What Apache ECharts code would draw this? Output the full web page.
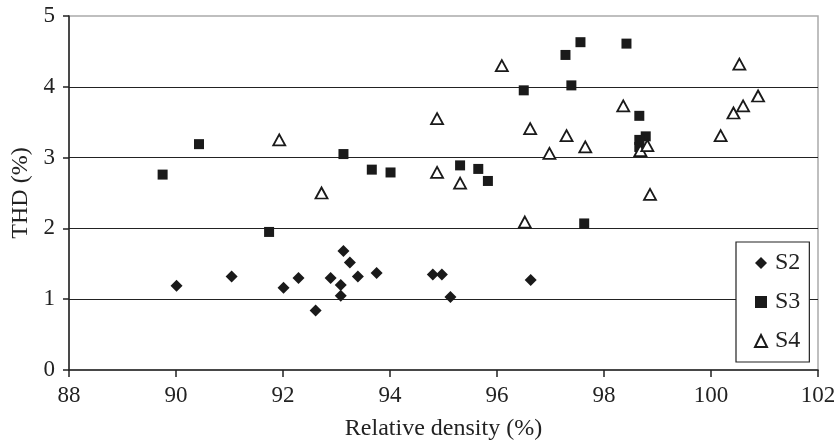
<!DOCTYPE html>
<html><head><meta charset="utf-8">
<script src="https://cdn.jsdelivr.net/npm/echarts@6/dist/echarts.min.js"></script>
<style>html,body{margin:0;padding:0;background:#fff}#c{width:839px;height:446px}</style>
</head><body><div id="c"></div>
<script>
const xTicks = [88, 90, 92, 94, 96, 98, 100, 102];
const yTicks = [0, 1, 2, 3, 4, 5];
const s2x = [90.01, 91.04, 92.01, 92.29, 92.61, 92.89, 93.13, 93.25, 93.08, 93.08, 93.40, 93.75, 94.80, 94.97, 95.13, 96.63];
const s2y = [1.19, 1.32, 1.16, 1.30, 0.84, 1.30, 1.68, 1.52, 1.20, 1.05, 1.32, 1.37, 1.35, 1.35, 1.03, 1.27];
const s3x = [89.75, 90.43, 91.74, 93.13, 93.66, 94.01, 95.31, 95.65, 95.83, 96.50, 97.28, 97.39, 97.56, 97.63, 98.42, 98.66, 98.78, 98.66, 98.66];
const s3y = [2.76, 3.19, 1.95, 3.05, 2.83, 2.79, 2.89, 2.84, 2.67, 3.95, 4.45, 4.02, 4.63, 2.07, 4.61, 3.59, 3.30, 3.25, 3.15];
const s4x = [91.93, 92.72, 94.88, 94.88, 95.31, 96.09, 96.52, 96.62, 96.98, 97.30, 97.65, 98.36, 98.68, 98.81, 98.86, 100.18, 100.42, 100.60, 100.88, 100.53];
const s4y = [3.25, 2.50, 3.55, 2.79, 2.64, 4.30, 2.09, 3.41, 3.06, 3.31, 3.15, 3.73, 3.10, 3.17, 2.48, 3.31, 3.63, 3.73, 3.87, 4.32];
const names = ['S2', 'S3', 'S4'];

const zip = (a, b) => a.map((v, i) => [v, b[i]]);
const FONT = '"Liberation Serif", "Times New Roman", serif';
const chart = echarts.init(document.getElementById('c'), null, {renderer: 'canvas'});
chart.setOption({
  animation: false,
  backgroundColor: '#fff',
  textStyle: {fontFamily: FONT},
  grid: {left: 69, right: 21, top: 16, bottom: 76, show: true, borderColor: '#aaa', borderWidth: 1.5, backgroundColor: 'transparent'},
  xAxis: {
    type: 'value', min: xTicks[0], max: xTicks[xTicks.length - 1], interval: 2,
    name: 'Relative density (%)', nameLocation: 'middle', nameGap: 47,
    nameTextStyle: {fontFamily: FONT, fontSize: 24, color: '#222'},
    axisLine: {show: true, lineStyle: {color: '#222', width: 1.5}},
    axisTick: {show: true, inside: false, length: 7, lineStyle: {color: '#222', width: 1.5}},
    axisLabel: {fontFamily: FONT, fontSize: 23, color: '#222', margin: 14},
    splitLine: {show: false}
  },
  yAxis: {
    type: 'value', min: yTicks[0], max: yTicks[yTicks.length - 1], interval: 1,
    name: 'THD (%)', nameLocation: 'middle', nameGap: 33,
    nameTextStyle: {fontFamily: FONT, fontSize: 24, color: '#222'},
    axisLine: {show: true, lineStyle: {color: '#222', width: 1.5}},
    axisTick: {show: true, inside: false, length: 6, lineStyle: {color: '#222', width: 1.5}},
    axisLabel: {fontFamily: FONT, fontSize: 23, color: '#222', margin: 14},
    splitLine: {show: true, showMinLine: false, showMaxLine: false, lineStyle: {color: '#222', width: 1.2}}
  },
  legend: {
    orient: 'vertical', left: 736, top: 242,
    padding: [9, 9, 9, 18], itemGap: 15, itemWidth: 12, itemHeight: 12,
    backgroundColor: '#fff', borderColor: '#222', borderWidth: 1.2,
    textStyle: {fontFamily: FONT, fontSize: 24, color: '#222', padding: [0, 0, 0, 3]},
    data: names
  },
  series: [
    {name: names[0], type: 'scatter', symbol: 'diamond', symbolSize: 12, data: zip(s2x, s2y),
     itemStyle: {color: '#1a1a1a', opacity: 1}},
    {name: names[1], type: 'scatter', symbol: 'rect', symbolSize: 10, data: zip(s3x, s3y),
     itemStyle: {color: '#1a1a1a', opacity: 1}},
    {name: names[2], type: 'scatter', symbol: 'triangle', symbolSize: [12, 11], data: zip(s4x, s4y),
     itemStyle: {color: '#fff', borderColor: '#1a1a1a', borderWidth: 1.8, opacity: 1}}
  ]
});
</script></body></html>
